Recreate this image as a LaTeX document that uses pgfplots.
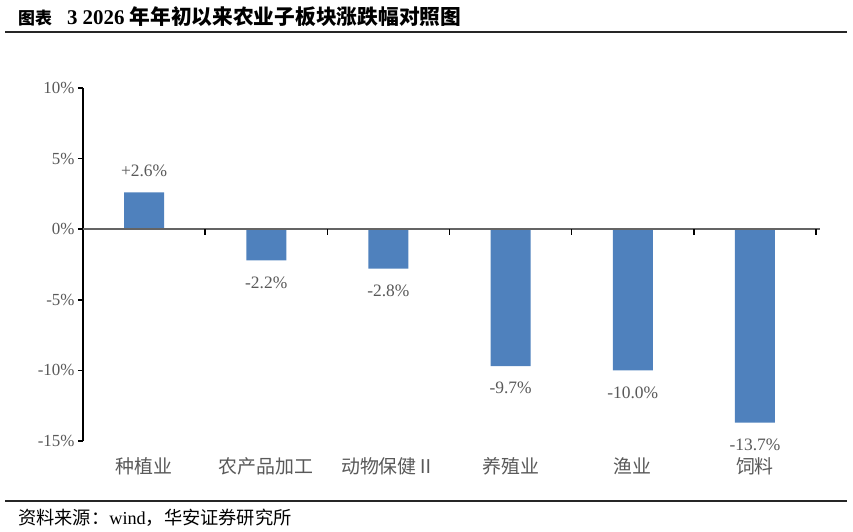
\documentclass[border=0pt]{standalone}
\usepackage{fontspec}
\setmainfont{Liberation Serif}
\newfontfamily\cjk{Noto Sans CJK SC}
\usepackage{pgfplots}
\pgfplotsset{compat=1.18}
\definecolor{barblue}{RGB}{79,129,189}
\definecolor{ticktext}{RGB}{89,89,89}
\definecolor{zeroline}{RGB}{100,100,100}

\begin{document}
\begin{tikzpicture}[x=1bp,y=1bp]
  \useasboundingbox (0,0) rectangle (853,532);
  % title and rules
  \node[anchor=west,inner sep=0] at (18,515)
    {{\cjk\bfseries\fontsize{17}{20}\selectfont 图表}\hspace{15bp}{\bfseries\fontsize{21}{22}\selectfont 3 2026}\hspace{5bp}{\cjk\bfseries\fontsize{20.8}{22}\selectfont 年年初以来农业子板块涨跌幅对照图}};
  \draw[line width=1.2bp,black!85] (5,500) -- (847,500);
  \draw[line width=1.2bp,black!85] (5,31) -- (847,31);
  \node[anchor=west,inner sep=0] at (18,14)
    {\fontsize{18.3}{20}\selectfont{\cjk 资料来源：}wind{\cjk ，华安证券研究所}};

  \begin{axis}[
      at={(83bp,91bp)}, anchor=south west,
      scale only axis,
      width=733bp, height=353bp,
      ybar, bar width=40bp,
      xmin=-0.5, xmax=5.5,
      ymin=-15, ymax=10,
      ytick={-15,-10,-5,0,5,10},
      axis y line*=left,
      axis x line*=bottom,
      x axis line style={draw=none},
      y axis line style={line width=1.5bp,black},
      ytick style={line width=1.5bp,black},
      tick align=outside,
      major tick length=5bp,
      xtick={0,1,2,3,4,5},
      xtick style={draw=none},
      xticklabels={种植业,农产品加工,动物保健Ⅱ,养殖业,渔业,饲料},
      xticklabel style={font=\cjk\fontsize{19}{21}\selectfont, text=ticktext, yshift=-8bp},
      yticklabel={\pgfmathprintnumber[assume math mode=true]{\tick}\%},
      yticklabel style={font=\fontsize{17}{20}\selectfont, text=ticktext},
      nodes near coords={\pgfmathprintnumber[showpos,fixed,fixed zerofill,precision=1,assume math mode=true]{\pgfplotspointmeta}\%},
      nodes near coords style={font=\fontsize{17.5}{20}\selectfont, text=ticktext, inner ysep=16bp},
      clip=false,
    ]
    \addplot[fill=barblue, draw=none] coordinates {
      (0,2.6) (1,-2.2) (2,-2.8) (3,-9.7) (4,-10.0) (5,-13.7)
    };
    \draw[line width=1.5bp,zeroline] (axis cs:-0.5,0) -- (axis cs:5.53,0);
    \pgfplotsinvokeforeach{0.5,1.5,2.5,3.5,4.5,5.5}{
      \draw[line width=1.5bp,black] (axis cs:#1,0) -- ([yshift=-6bp]axis cs:#1,0);
    }
  \end{axis}
\end{tikzpicture}
\end{document}
